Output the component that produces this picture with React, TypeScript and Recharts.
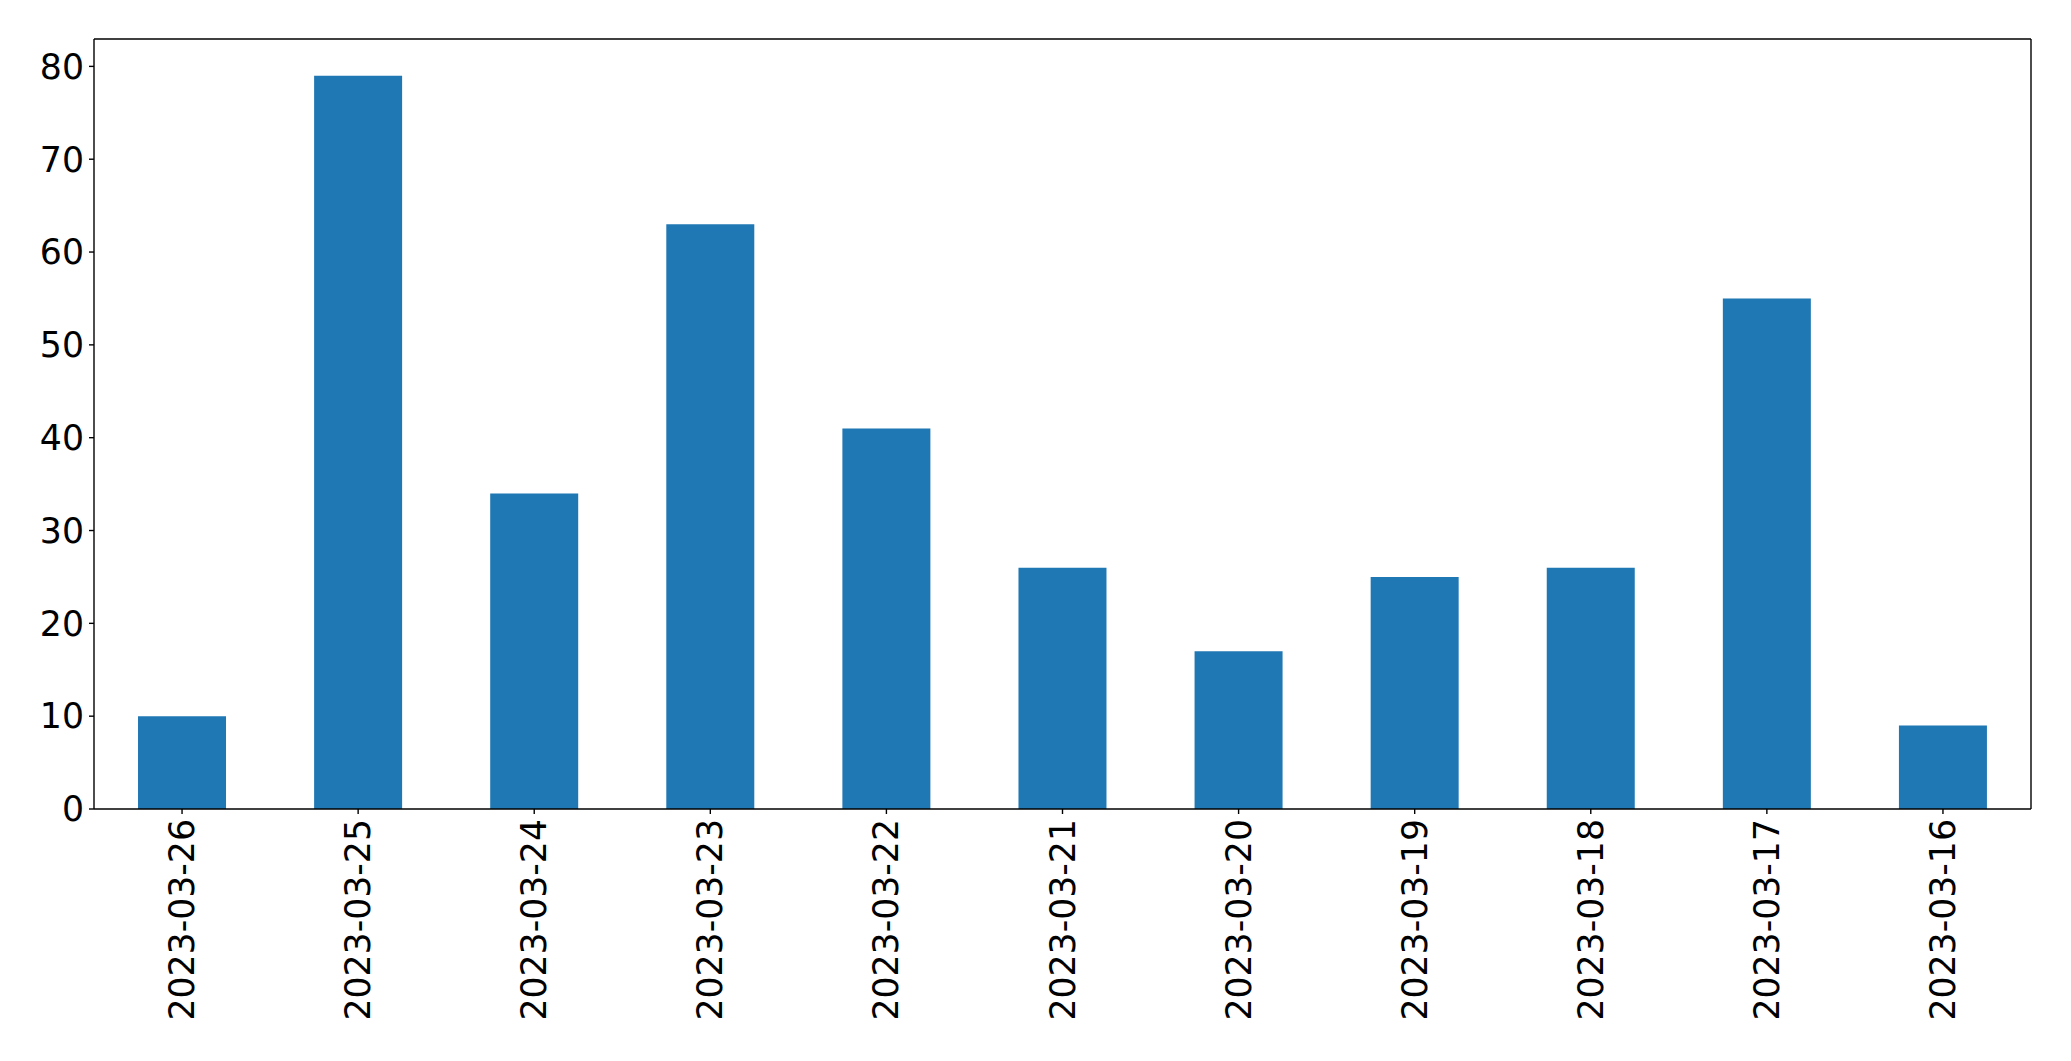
import React from 'react';
import { BarChart, Bar, XAxis, YAxis } from 'recharts';

const dates = [
  '2023-03-26', '2023-03-25', '2023-03-24', '2023-03-23', '2023-03-22', '2023-03-21',
  '2023-03-20', '2023-03-19', '2023-03-18', '2023-03-17', '2023-03-16',
];
const counts = [10, 79, 34, 63, 41, 26, 17, 25, 26, 55, 9];
const yTicks = [0, 10, 20, 30, 40, 50, 60, 70, 80];

const FONT = '"DejaVu Sans", sans-serif';
const FS = 34.7;

function DateTick(props: any) {
  const { x, payload } = props;
  // axis line sits at y=809, tick 5px, pad ~5px
  return (
    <text
      x={0}
      y={0}
      transform={`translate(${x},${819}) rotate(-90)`}
      textAnchor="end"
      dominantBaseline="central"
      fontFamily={FONT}
      fontSize={FS}
      fill="#000"
    >
      {payload.value}
    </text>
  );
}

export default function App() {
  const data = dates.map((d, i) => ({ date: d, count: counts[i] }));

  return (
    <div style={{ position: 'absolute', left: 0, top: 0, background: '#fff' }}>
      <BarChart
        width={2071}
        height={1061}
        data={data}
        margin={{ top: 38, right: 39, left: 0, bottom: 0 }}
        barCategoryGap="25%"
      >
        <XAxis
          dataKey="date"
          height={252}
          interval={0}
          tickLine={{ stroke: '#000', strokeWidth: 1.4 }}
          tickSize={5}
          axisLine={{ stroke: '#000', strokeWidth: 1.4 }}
          tick={<DateTick />}
        />
        <XAxis
          xAxisId="top"
          dataKey="date"
          orientation="top"
          height={1}
          tick={false}
          tickLine={false}
          axisLine={{ stroke: '#000', strokeWidth: 1.4 }}
        />
        <YAxis
          width={94}
          domain={[0, 82.95]}
          ticks={yTicks}
          interval={0}
          tickSize={5}
          tickMargin={5}
          tickLine={{ stroke: '#000', strokeWidth: 1.4 }}
          axisLine={{ stroke: '#000', strokeWidth: 1.4 }}
          tick={{ fill: '#000', fontSize: FS, fontFamily: FONT }}
        />
        <YAxis
          yAxisId="right"
          orientation="right"
          width={1}
          domain={[0, 82.95]}
          tick={false}
          tickLine={false}
          axisLine={{ stroke: '#000', strokeWidth: 1.4 }}
        />
        <Bar dataKey="count" fill="#1f77b4" isAnimationActive={false} />
      </BarChart>
    </div>
  );
}
